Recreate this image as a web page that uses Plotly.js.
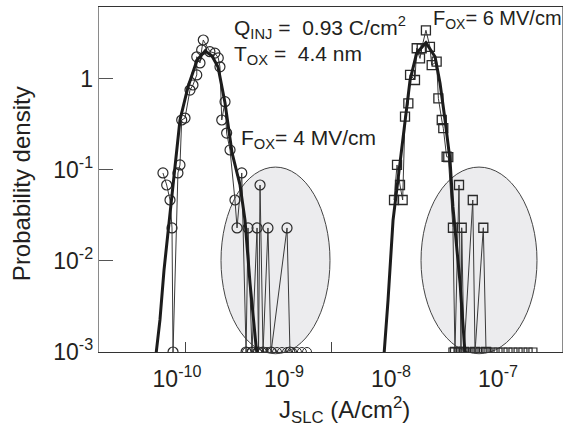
<!DOCTYPE html>
<html>
<head>
<meta charset="utf-8">
<script src="https://cdn.plot.ly/plotly-3.0.1.min.js"></script>
<style>html,body{margin:0;padding:0;background:#fff;}#chart{width:564px;height:429px;}</style>
</head>
<body>
<div id="chart"></div>
<script>
// ---- data ----
// F_OX = 4 MV/cm : fitted distribution (thick line)
const J_fit4 = [6.37e-11, 6.93e-11, 7.56e-11, 8.6e-11, 1.066e-10, 1.267e-10, 1.54e-10, 1.83e-10, 2.12e-10, 2.42e-10, 2.81e-10, 3.27e-10, 3.88e-10, 4.32e-10, 4.81e-10, 5.47e-10, 5.6e-10];
const P_fit4 = [0.00095, 0.00225, 0.00794, 0.0336, 0.352, 0.811, 1.60, 2.01, 1.78, 1.34, 0.541, 0.153, 0.0681, 0.0280, 0.00572, 0.00119, 0.00095];
// F_OX = 4 MV/cm : measured histogram (open circles)
const J_data4 = [7.39e-11, 8.01e-11, 8.6e-11, 8.98e-11, 9.18e-11, 1.02e-10, 1.066e-10, 1.106e-10, 1.188e-10, 1.322e-10, 1.41e-10, 1.53e-10, 1.53e-10, 1.64e-10, 1.70e-10, 1.76e-10, 2.03e-10, 2.26e-10, 2.43e-10, 2.52e-10, 2.62e-10, 2.81e-10, 2.91e-10, 3.13e-10, 3.48e-10, 3.64e-10, 4.03e-10, 4.42e-10, 4.61e-10, 5.02e-10, 5.60e-10, 5.78e-10, 5.97e-10, 6.37e-10, 7.08e-10, 7.57e-10, 1.067e-9, 1.137e-9];
const P_data4 = [0.0923, 0.0681, 0.0466, 0.023, 0.001, 0.0923, 0.113, 0.352, 0.370, 0.751, 0.853, 1.10, 1.74, 1.49, 2.07, 2.66, 1.98, 1.91, 1.69, 1.35, 0.352, 0.559, 0.253, 0.165, 0.0466, 0.023, 0.0923, 0.001, 0.023, 0.001, 0.023, 0.001, 0.0681, 0.001, 0.023, 0.001, 0.023, 0.001];
// empty bins of the 4 MV/cm histogram (sitting on the axis floor)
const J_floor4 = [4.51e-10, 5.02e-10, 5.60e-10, 6.22e-10, 6.93e-10, 7.72e-10, 8.60e-10, 9.57e-10, 1.067e-9, 1.19e-9, 1.32e-9, 1.47e-9, 1.64e-9];
const P_floor4 = [0.001, 0.001, 0.001, 0.001, 0.001, 0.001, 0.001, 0.001, 0.001, 0.001, 0.001, 0.001, 0.001];

// F_OX = 6 MV/cm : fitted distribution (thick line)
const J_fit6 = [8.61e-9, 9.38e-9, 1.045e-8, 1.213e-8, 1.352e-8, 1.507e-8, 1.738e-8, 2.12e-8, 2.58e-8, 2.87e-8, 3.20e-8, 3.56e-8, 3.79e-8, 4.42e-8, 4.92e-8];
const P_fit6 = [0.00095, 0.00372, 0.0281, 0.119, 0.352, 0.968, 1.91, 2.48, 1.74, 0.897, 0.352, 0.128, 0.0391, 0.00572, 0.00095];
// F_OX = 6 MV/cm : measured histogram (open squares)
const J_data6 = [1.067e-8, 1.138e-8, 1.213e-8, 1.285e-8, 1.352e-8, 1.452e-8, 1.507e-8, 1.675e-8, 1.738e-8, 1.866e-8, 1.936e-8, 2.12e-8, 2.31e-8, 2.40e-8, 2.67e-8, 2.77e-8, 2.98e-8, 3.08e-8, 3.31e-8, 3.43e-8, 3.79e-8, 3.96e-8, 4.32e-8, 4.51e-8, 4.58e-8, 4.81e-8, 5.81e-8, 6.10e-8, 7.29e-8, 7.73e-8];
const P_data6 = [0.0466, 0.113, 0.0681, 0.0466, 0.383, 0.537, 1.10, 0.968, 2.16, 1.67, 2.16, 3.40, 2.24, 1.41, 1.54, 0.609, 0.352, 0.286, 0.139, 0.138, 0.0231, 0.001, 0.0681, 0.001, 0.0231, 0.001, 0.0466, 0.001, 0.0231, 0.001];
const J_floor6 = [3.79e-8, 4.23e-8, 4.71e-8, 5.25e-8, 5.84e-8, 6.50e-8, 7.24e-8, 8.07e-8, 8.98e-8, 1.0e-7, 1.114e-7, 1.24e-7, 1.38e-7, 1.54e-7, 1.71e-7, 1.91e-7, 2.12e-7];
const P_floor6 = [0.001, 0.001, 0.001, 0.001, 0.001, 0.001, 0.001, 0.001, 0.001, 0.001, 0.001, 0.001, 0.001, 0.001, 0.001, 0.001, 0.001];

// tick labels
const xTickVals = [1e-10, 1e-9, 1e-8, 1e-7];
const xTickText = ['10<sup>-10</sup>', '10<sup>-9</sup>', '10<sup>-8</sup>', '10<sup>-7</sup>'];
const xMarkVals = [1.213e-10, 2.75e-9, 6.22e-8];
const yTickVals = [0.001, 0.01, 0.1, 1];
const yTickText = ['10<sup>-3</sup>', '10<sup>-2</sup>', '10<sup>-1</sup>', '1'];

// ---- styles ----
const FONT = 'Arial, "Liberation Sans", sans-serif';
const INK = '#231f20';
const thin = {color: '#3a3a3a', width: 1};
const thick = {color: '#1c1c1c', width: 3};

const traces = [
  {x: J_data4, y: P_data4, mode: 'lines+markers', line: thin,
   marker: {symbol: 'circle-open', size: 10, color: '#2a2a2a', line: {width: 1.2}}},
  {x: J_floor4, y: P_floor4, mode: 'markers',
   marker: {symbol: 'circle-open', size: 9, color: '#2a2a2a', line: {width: 1}}},
  {x: J_fit4, y: P_fit4, mode: 'lines', line: thick},
  {x: J_data6, y: P_data6, mode: 'lines+markers', line: thin,
   marker: {symbol: 'square-open', size: 9, color: '#2a2a2a', line: {width: 1.3}}},
  {x: J_floor6, y: P_floor6, mode: 'markers',
   marker: {symbol: 'square-open', size: 8, color: '#2a2a2a', line: {width: 1.2}}},
  {x: J_fit6, y: P_fit6, mode: 'lines', line: thick},
  {x: [], y: [], xaxis: 'x2', mode: 'lines', hoverinfo: 'skip'}
];

const XR = [-10.729, -6.402];
const layout = {
  width: 564, height: 429,
  margin: {l: 99, r: 2, t: 7, b: 77},
  paper_bgcolor: '#fff', plot_bgcolor: '#fff',
  showlegend: false,
  font: {family: FONT, color: INK, size: 23},
  xaxis: {
    type: 'log', range: XR, showgrid: false, zeroline: false,
    showline: true, mirror: true, linecolor: '#333', linewidth: 1.2,
    ticks: '', tickvals: xTickVals, ticktext: xTickText,
    tickfont: {family: FONT, size: 23, color: INK}, ticklabelstandoff: 6
  },
  xaxis2: {
    type: 'log', range: XR, overlaying: 'x', anchor: 'y', side: 'bottom',
    showgrid: false, zeroline: false, showline: false,
    ticks: 'inside', ticklen: 10, tickwidth: 1, tickcolor: '#444',
    tickvals: xMarkVals, showticklabels: false
  },
  yaxis: {
    type: 'log', range: [-3, 0.787], showgrid: false, zeroline: false,
    showline: true, mirror: true, linecolor: '#8a8a8a', linewidth: 1.3,
    ticks: 'inside', ticklen: 14, tickwidth: 1, tickcolor: '#555',
    tickvals: yTickVals, ticktext: yTickText,
    tickfont: {family: FONT, size: 23, color: INK}
  },
  shapes: [
    {type: 'circle', xref: 'paper', yref: 'paper', x0: 0.2635, x1: 0.4989, y0: -0.005, y1: 0.536,
     layer: 'below', fillcolor: '#ececee', line: {color: '#444', width: 1}},
    {type: 'circle', xref: 'paper', yref: 'paper', x0: 0.6955, x1: 0.946, y0: -0.005, y1: 0.536,
     layer: 'below', fillcolor: '#ececee', line: {color: '#444', width: 1}}
  ],
  annotations: [
    {xref: 'paper', yref: 'paper', x: 0.287, y: 0.94, xanchor: 'left', yanchor: 'middle', showarrow: false,
     text: 'Q<sub>INJ</sub> =&nbsp; 0.93 C/cm<sup>2</sup>', font: {family: FONT, size: 21, color: INK}},
    {xref: 'paper', yref: 'paper', x: 0.287, y: 0.861, xanchor: 'left', yanchor: 'middle', showarrow: false,
     text: 'T<sub>OX</sub> =&nbsp; 4.4 nm', font: {family: FONT, size: 21, color: INK}},
    {xref: 'paper', yref: 'paper', x: 0.717, y: 0.965, xanchor: 'left', yanchor: 'middle', showarrow: false,
     text: 'F<sub>OX</sub>= 6 MV/cm', font: {family: FONT, size: 20, color: INK}},
    {xref: 'paper', yref: 'paper', x: 0.3024, y: 0.617, xanchor: 'left', yanchor: 'middle', showarrow: false,
     text: 'F<sub>OX</sub>= 4 MV/cm', font: {family: FONT, size: 21, color: INK}},
    {xref: 'paper', yref: 'paper', x: 0.531, y: -0.168, xanchor: 'center', yanchor: 'middle', showarrow: false,
     text: 'J<sub>SLC</sub> (A/cm<sup>2</sup>)', font: {family: FONT, size: 24, color: INK}},
    {xref: 'paper', yref: 'paper', x: -0.166, y: 0.487, xanchor: 'center', yanchor: 'middle', showarrow: false,
     textangle: -90, text: 'Probability density', font: {family: FONT, size: 24, color: INK}}
  ]
};

Plotly.newPlot('chart', traces, layout, {staticPlot: true, displayModeBar: false});
</script>
</body>
</html>
